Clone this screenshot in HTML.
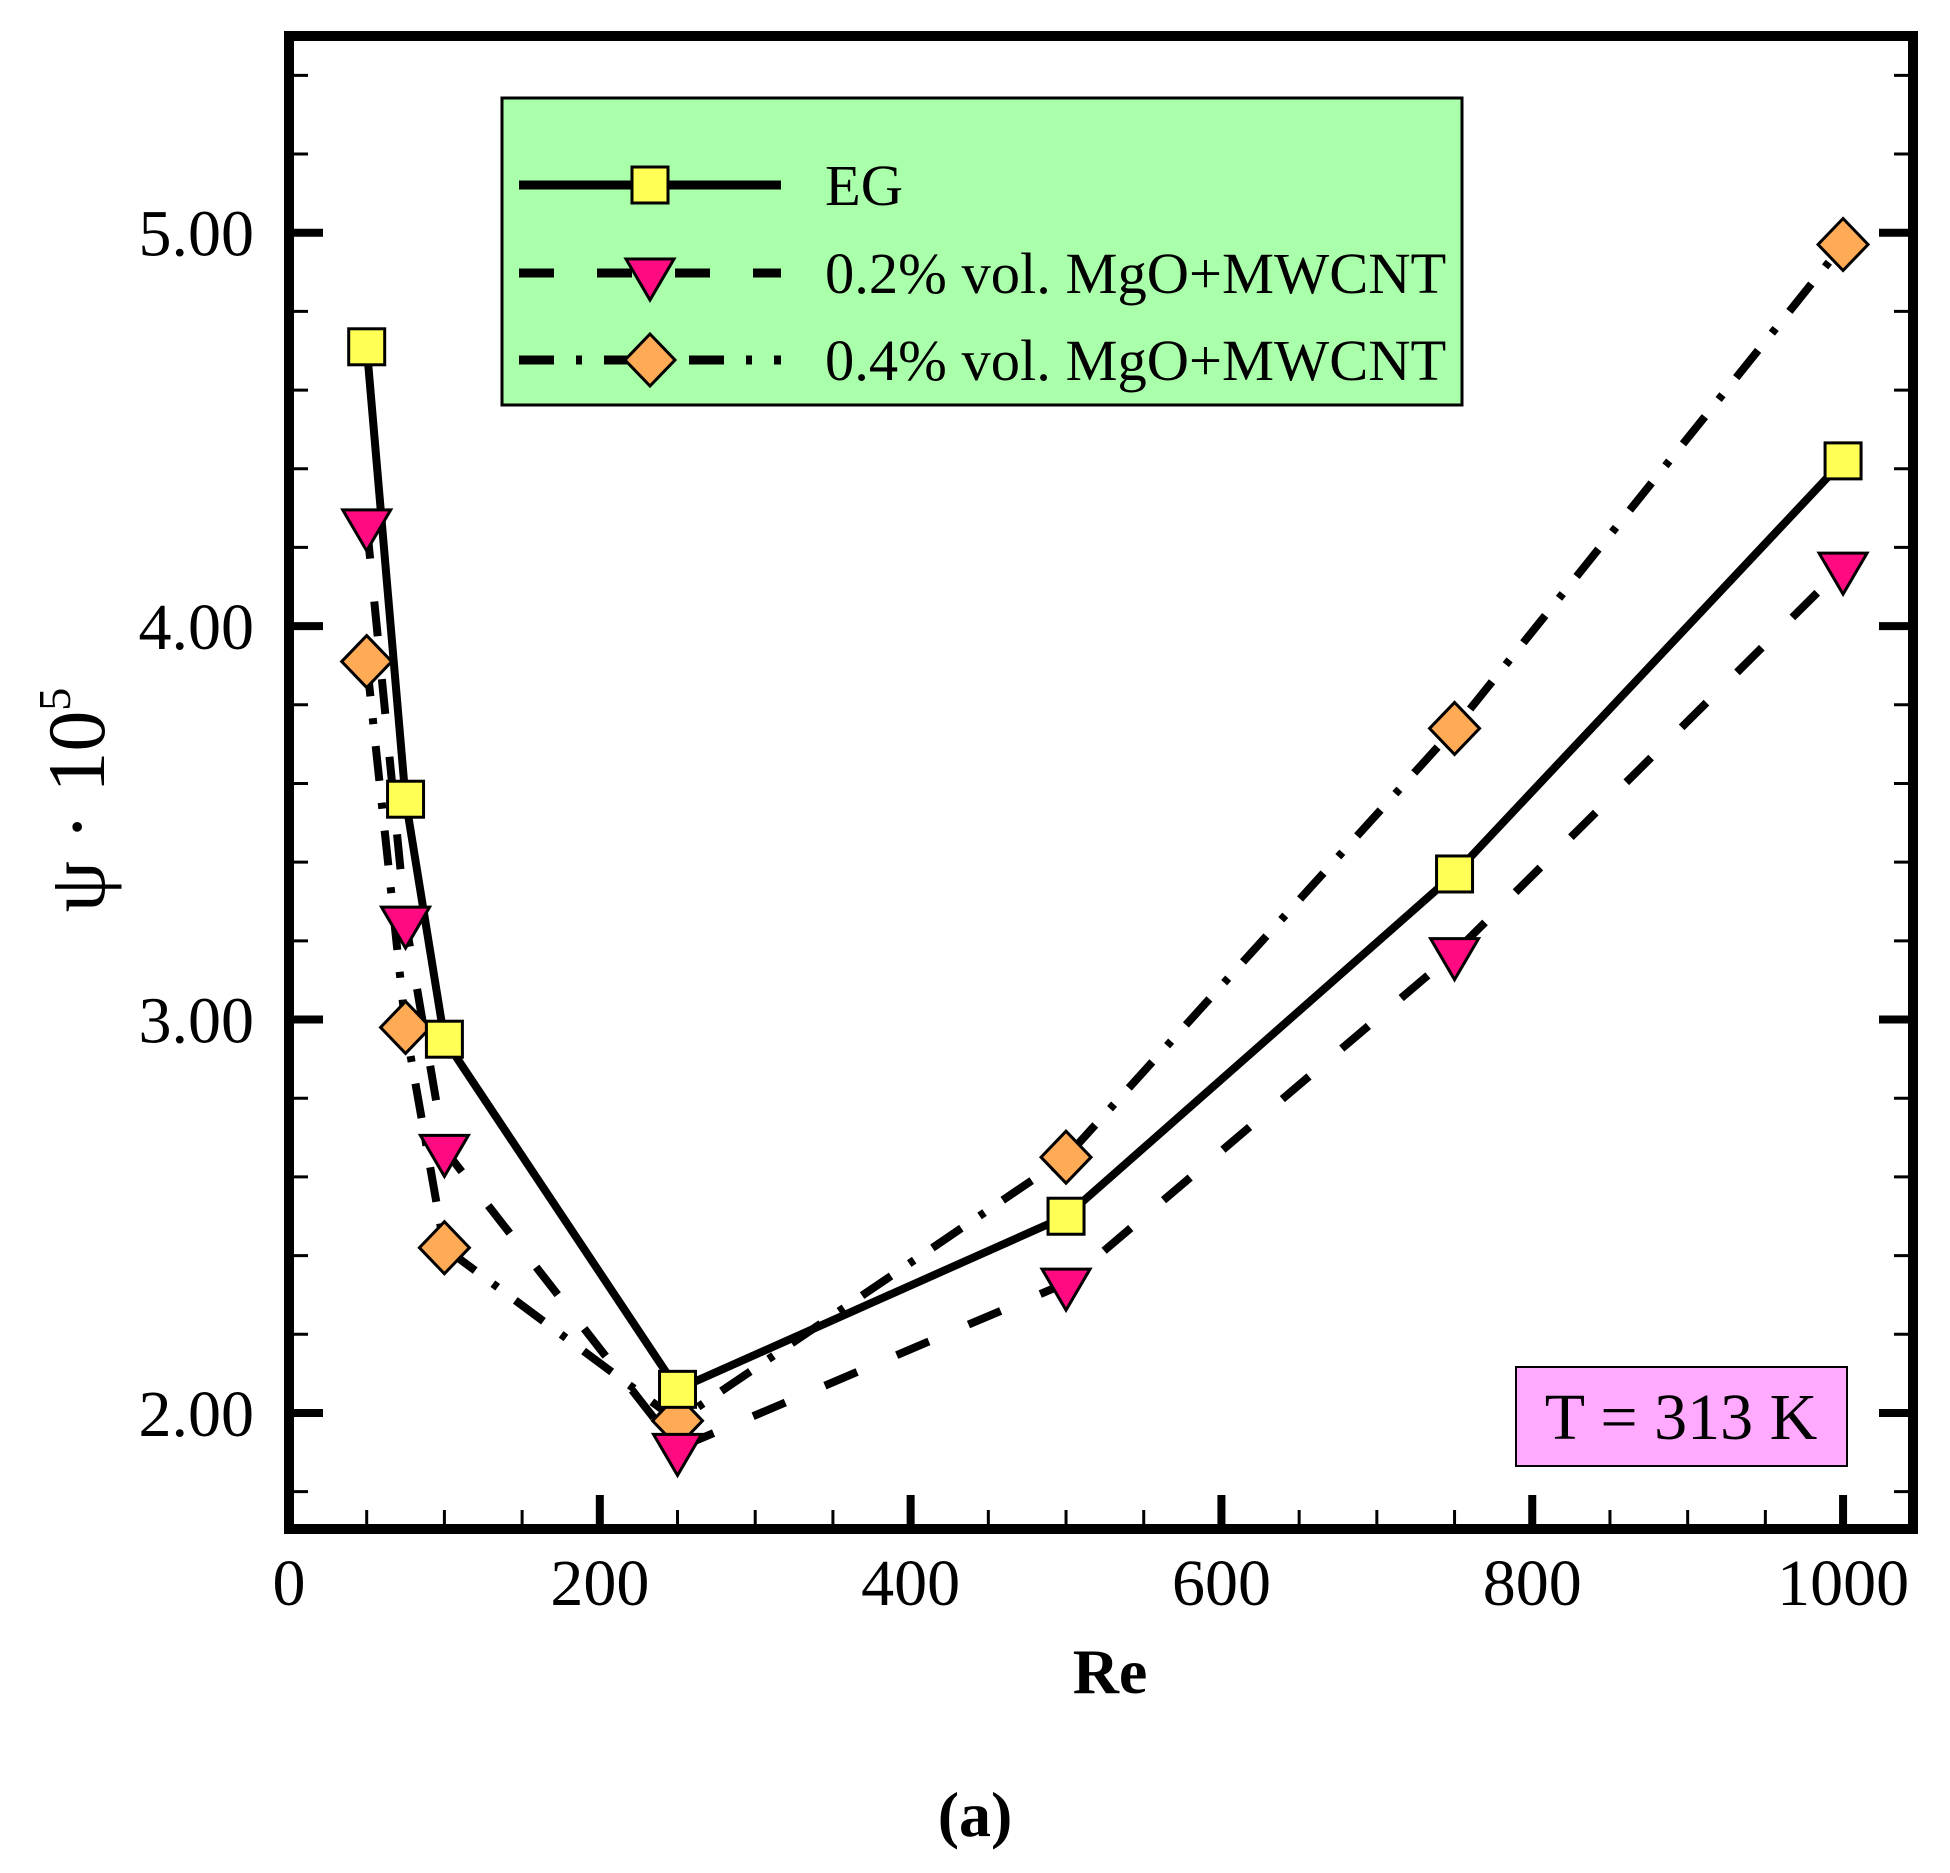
<!DOCTYPE html>
<html><head><meta charset="utf-8"><style>
body{margin:0;background:#fff}
svg{display:block}
text{font-family:"Liberation Serif",serif;fill:#000}
</style></head><body>
<svg id="chart" width="1950" height="1873" viewBox="0 0 1950 1873">
<g id="plot"></g>
</svg>
<script>
const categories=[50,75,100,250,500,750,1000];
const egValues=[4.71,3.56,2.95,2.06,2.50,3.37,4.42];
const vol02Values=[4.26,3.25,2.67,1.91,2.33,3.17,4.15];
const vol04Values=[3.91,2.98,2.42,1.98,2.65,3.74,4.97];
const yTickLabels=["2.00","3.00","4.00","5.00"];
const yTickValues=[2,3,4,5];
const xTickValues=[0,200,400,600,800,1000];

const NS="http://www.w3.org/2000/svg";
const L=289,R=1913,T=36,B=1529;
const X0=0,X1=1045,Y0=1.705,Y1=5.5;
const sx=v=>L+(v-X0)/(X1-X0)*(R-L);
const sy=v=>B-(v-Y0)/(Y1-Y0)*(B-T);
const g=document.getElementById('plot');
function mk(tag,attrs,parent){const e=document.createElementNS(NS,tag);for(const k in attrs)e.setAttribute(k,attrs[k]);(parent||g).appendChild(e);return e;}

for(let v=50;v<1045;v+=50){
  const major=v%200===0;
  const t=mk('line',{x1:sx(v),x2:sx(v),y1:B,y2:B-(major?34:19),stroke:'#000','stroke-width':major?8:3});
  
  
}
for(let i=0;i<20;i++){
  const v=1.8+i*0.2; if(v>5.45)break;
  const major=Math.abs(v-Math.round(v))<0.01;
  for(const side of [0,1]){
    const x=side?R:L, d=side?-1:1, len=major?34:19;
    const t=mk('line',{x1:x,x2:x+d*len,y1:sy(v),y2:sy(v),stroke:'#000','stroke-width':major?8:3});
    
    
  }
}
const fr=mk('rect',{x:L,y:T,width:R-L,height:B-T,fill:'none',stroke:'#000','stroke-width':10});



xTickValues.forEach(v=>{
  const t=mk('text',{x:sx(v),y:1605,'text-anchor':'middle','font-size':66});
  t.textContent=v;
  
  
});
yTickValues.forEach((v,i)=>{
  const t=mk('text',{x:254,y:sy(v)+23,'text-anchor':'end','font-size':66});
  t.textContent=yTickLabels[i];
  
  
});

function marker(type,x,y,parent){
  let e;
  if(type==='sq') e=mk('rect',{x:x-18,y:y-18,width:36,height:36,fill:'#ffff55',stroke:'#000','stroke-width':3},parent);
  else if(type==='tri') e=mk('polygon',{points:`${x-24},${y-14} ${x+24},${y-14} ${x},${y+27}`,fill:'#ff0a80',stroke:'#000','stroke-width':3},parent);
  else e=mk('polygon',{points:`${x},${y-26} ${x+25},${y} ${x},${y+26} ${x-25},${y}`,fill:'#ffaa55',stroke:'#000','stroke-width':3},parent);
  return e;
}
const series=[
  {vals:vol04Values,dash:'35 22 6 22',type:'dia',name:'vol04'},
  {vals:vol02Values,dash:'35 43',type:'tri',name:'vol02'},
  {vals:egValues,dash:'none',type:'sq',name:'eg'}
];
series.forEach(s=>{
  const pts=categories.map((c,i)=>sx(c)+','+sy(s.vals[i])).join(' ');
  const l=mk('polyline',{points:pts,fill:'none',stroke:'#000','stroke-width':8,'stroke-dasharray':s.dash});
  
  
});
series.forEach(s=>{
  categories.forEach((c,i)=>{
    const m=marker(s.type,sx(c),sy(s.vals[i]));
    
    
  });
});

const lg=mk('g',{});


mk('rect',{x:502,y:98,width:960,height:307,fill:'#aaffaa',stroke:'#000','stroke-width':3},lg);
const leg=[{y:185,dash:'none',type:'sq',label:'EG'},{y:273,dash:'35 43',type:'tri',label:'0.2% vol. MgO+MWCNT'},{y:360,dash:'35 22 6 22',type:'dia',label:'0.4% vol. MgO+MWCNT'}];
leg.forEach(e=>{
  const ent=mk('g',{},lg);
  
  
  mk('line',{x1:519,x2:781,y1:e.y,y2:e.y,stroke:'#000','stroke-width':9,'stroke-dasharray':e.dash},ent);
  marker(e.type,650,e.y,ent);
  const t=mk('text',{x:825,y:e.y+20,'font-size':58.5},ent);
  t.textContent=e.label;
});

const an=mk('g',{});


mk('rect',{x:1516,y:1367,width:331,height:99,fill:'#ffaaff',stroke:'#000','stroke-width':2},an);
const at=mk('text',{x:1681,y:1439,'text-anchor':'middle','font-size':66},an);
at.textContent='T = 313 K';

const xt=mk('text',{x:1110,y:1693,'text-anchor':'middle','font-size':64,'font-weight':'bold'});
xt.textContent='Re';


const yt=mk('text',{x:0,y:0,'text-anchor':'middle','font-size':82,transform:'translate(104,800) rotate(-90)'});
yt.innerHTML='ψ · 10<tspan font-size="46" dy="-34">5</tspan>';


const cap=mk('text',{x:975,y:1836,'text-anchor':'middle','font-size':64,'font-weight':'bold'});
cap.textContent='(a)';


</script>
</body></html>
